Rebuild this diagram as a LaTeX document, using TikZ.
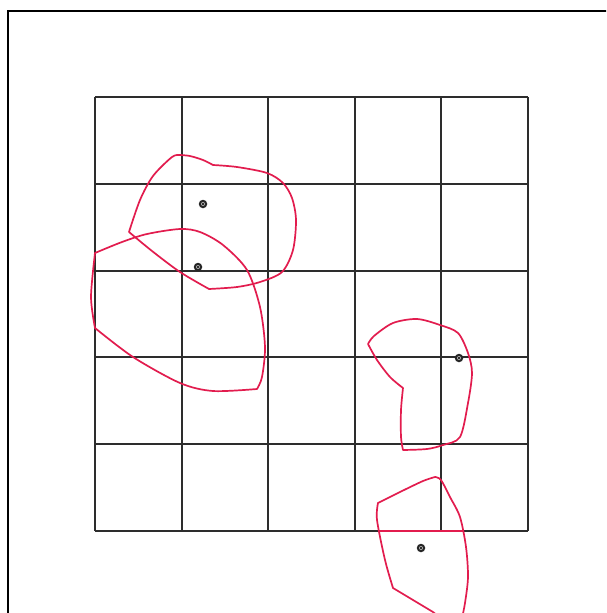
\documentclass[tikz,border=0pt]{standalone}
\definecolor{blobred}{RGB}{226,28,78}
\definecolor{gridgray}{RGB}{45,45,45}
\tikzset{
  gridline/.style={draw=gridgray, line width=2pt},
  frameline/.style={draw=black, line width=2pt},
  blob/.style={draw=blobred, line width=1.7pt, line join=round},
  dotmark/.style={circle, fill=black!85, inner sep=0pt, minimum size=8.5pt,
    path picture={\fill[white!70!black] (path picture bounding box.center) circle (2pt);
                  \fill[black] (path picture bounding box.center) circle (1.1pt);}}
}
\begin{document}
\begin{tikzpicture}[x=1pt,y=-1pt]
\useasboundingbox (0,0) rectangle (606,613);
\clip (0,0) rectangle (606,613);
\fill[white] (0,0) rectangle (606,613);
% frame (only left and top edges visible)
\draw[frameline] (8,640) -- (8,11) -- (640,11);
% grid
\foreach \x in {95,182,268,355,441,528} {
  \draw[gridline] (\x,97) -- (\x,531);
}
\foreach \y in {97,184,271,357,444,531} {
  \draw[gridline] (95,\y) -- (528,\y);
}
% red overlay segment on grid bottom line
\draw[draw=blobred, line width=2pt] (377.5,531) -- (463.5,531);
% blob 1 (upper left)
\draw[blob]
  plot[smooth, tension=0.5] coordinates {(129,232) (140,200) (153,176) (172,157) (180,155)}
  -- plot[smooth, tension=0.5] coordinates {(180,155) (190,156) (203,160) (213,165)}
  -- plot[smooth, tension=0.5] coordinates {(213,165) (237,167) (267,173) (283,183) (292,198) (296,220) (293,250) (282,272) (260,282) (237,287) (209,289)}
  -- plot[smooth, tension=0.5] coordinates {(209,289) (180,272) (152,251) (129,232)} -- cycle;
% blob 2 (big left)
\draw[blob]
  plot[smooth, tension=0.5] coordinates {(95,253) (122,242) (147,234) (180,229) (200,232) (223,245) (247,270) (260,307) (265,347) (262,377) (257,389)}
  -- plot[smooth, tension=0.5] coordinates {(257,389) (213,391) (180,383) (133,357) (95,328)}
  -- plot[smooth, tension=0.5] coordinates {(95,328) (91,297) (95,253)} -- cycle;
% blob 3 (right middle)
\draw[blob]
  plot[smooth, tension=0.5] coordinates {(368,344) (374,336) (393,323) (417,319) (440,325) (458,333) (468,353) (472,373) (468,403) (460,437) (443,445) (427,449) (403,450)}
  -- plot[smooth, tension=0.5] coordinates {(403,450) (401,437) (401,410) (403,388)}
  -- plot[smooth, tension=0.5] coordinates {(403,388) (390,377) (377,360) (368,344)} -- cycle;
% blob 4 (bottom)
\draw[blob]
  plot[smooth, tension=0.5] coordinates {(378,503) (400,492) (423,481) (435,477)}
  -- plot[smooth, tension=0.5] coordinates {(435,477) (441,480) (450,497) (460,517) (466,547) (468,577) (465,603) (462,618)}
  -- (448,624) -- (433,612)
  -- plot[smooth, tension=0.5] coordinates {(433,612) (413,600) (393,588)}
  -- plot[smooth, tension=0.5] coordinates {(393,588) (385,560) (377,520) (378,503)} -- cycle;
% dots
\node[dotmark] (d1) at (203,204) {};
\node[dotmark] (d2) at (198,267) {};
\node[dotmark] (d3) at (459,358) {};
\node[dotmark] (d4) at (421,548) {};
\end{tikzpicture}
\end{document}
